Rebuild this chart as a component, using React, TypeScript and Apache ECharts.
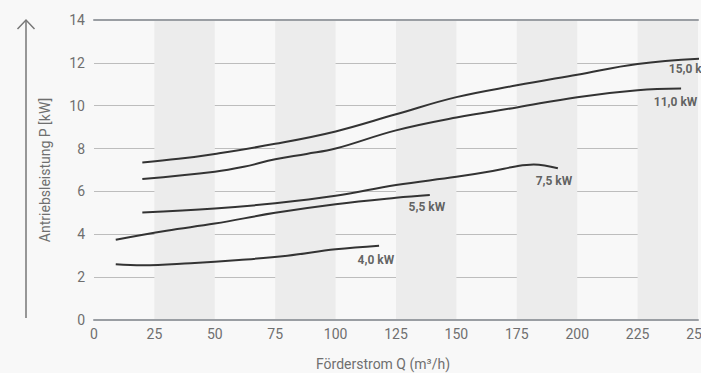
import React, { useEffect, useRef } from "react";
import * as echarts from "echarts";

const xTicks = [0, 25, 50, 75, 100, 125, 150, 175, 200, 225, 250];
const yTicks = [0, 2, 4, 6, 8, 10, 12, 14];

const curve150: [number, number][] = [[20, 7.35], [35, 7.52], [50, 7.75], [75, 8.22], [100, 8.8], [125, 9.6], [150, 10.4], [175, 10.95], [200, 11.45], [225, 11.95], [252, 12.2]];
const curve110: [number, number][] = [[20, 6.58], [50, 6.92], [62, 7.15], [75, 7.5], [88, 7.75], [100, 8.0], [125, 8.85], [150, 9.45], [175, 9.92], [200, 10.4], [225, 10.72], [243, 10.8]];
const curve75: [number, number][] = [[20, 5.02], [50, 5.2], [75, 5.45], [100, 5.8], [125, 6.3], [150, 6.68], [165, 6.95], [175, 7.18], [182, 7.26], [192, 7.08]];
const curve55: [number, number][] = [[9, 3.75], [30, 4.17], [50, 4.5], [75, 5.0], [100, 5.4], [125, 5.7], [139, 5.83]];
const curve40: [number, number][] = [[9, 2.6], [20, 2.55], [40, 2.65], [60, 2.8], [80, 3.0], [100, 3.3], [118, 3.47]];

const curveNames = ["15,0 kW", "11,0 kW", "7,5 kW", "5,5 kW", "4,0 kW"];
const curves = [curve150, curve110, curve75, curve55, curve40];
// label anchor points (left edge of label text) in data units
const labelAnchors: [number, number][] = [[237.7, 11.71], [231.5, 10.17], [182.6, 6.49], [130, 5.27], [108.9, 2.8]];

const font = "Roboto, 'Liberation Sans', sans-serif";

export default function App() {
  const ref = useRef<HTMLDivElement>(null);
  useEffect(() => {
    document.body.style.margin = "0";
    const chart = echarts.init(ref.current!, null, { renderer: "svg" });
    const lineSeries = curves.map((c, i) => ({
      type: "line",
      name: curveNames[i],
      data: c,
      smooth: 0.4,
      showSymbol: false,
      symbol: "none",
      lineStyle: { color: "#333", width: 2 },
      xAxisIndex: 0,
      yAxisIndex: 0,
      z: 5,
    }));
    chart.setOption({
      animation: false,
      backgroundColor: "#f8f8f8",
      grid: { left: 94, right: 3, top: 20, bottom: 53, outerBoundsMode: "none", containLabel: false },
      xAxis: [
        {
          type: "value",
          min: 0,
          max: 250,
          interval: 25,
          axisLine: { show: true, lineStyle: { color: "#9a9ea3", width: 2 } },
          axisTick: { show: false },
          splitLine: { show: false },
          splitArea: { show: true, areaStyle: { color: ["rgba(0,0,0,0)", "#ececec"] } },
          axisLabel: { color: "#6f6f6f", fontSize: 14, fontFamily: font, margin: 7, hideOverlap: false, formatter: (v: number) => (xTicks.includes(v) ? String(v) : "") },
          name: "Förderstrom Q (m³/h)",
          nameLocation: "middle",
          nameGap: 37,
          nameTextStyle: { color: "#6f6f6f", fontSize: 14, fontFamily: font, padding: [0, 0, 0, -26] },
        },
        {
          type: "value",
          position: "top",
          min: 0,
          max: 250,
          interval: 25,
          axisLine: { show: true, onZero: false, lineStyle: { color: "#9a9ea3", width: 2 } },
          axisTick: { show: false },
          axisLabel: { show: false },
          splitLine: { show: false },
        },
      ],
      yAxis: {
        type: "value",
        min: 0,
        max: 14,
        interval: 2,
        axisLine: { show: false },
        axisTick: { show: false },
        splitLine: { show: true, lineStyle: { color: "#bdbdbd", width: 1 } },
        axisLabel: { color: "#6f6f6f", fontSize: 14, fontFamily: font, margin: 9, formatter: (v: number) => (yTicks.includes(v) ? String(v) : "") },
        name: "Antriebsleistung P [kW]",
        nameLocation: "middle",
        nameGap: 42,
        nameRotate: 90,
        nameTextStyle: { color: "#6f6f6f", fontSize: 14, fontFamily: font },
      },
      graphic: [
        { type: "line", shape: { x1: 26, y1: 20, x2: 26, y2: 318 }, style: { stroke: "#777", lineWidth: 1.5 } },
        { type: "polyline", shape: { points: [[17.5, 29], [26, 20], [34.5, 29]] }, style: { stroke: "#777", lineWidth: 1.5, fill: null } },
      ],
      series: [
        ...lineSeries,
        {
          type: "scatter",
          data: labelAnchors.map((p, i) => ({ value: p, name: curveNames[i] })),
          symbolSize: 1,
          itemStyle: { color: "rgba(0,0,0,0)" },
          label: {
            show: true,
            position: "right",
            distance: 0,
            formatter: (p: any) => p.name,
            color: "#3d3d3d",
            fontSize: 12,
            fontWeight: "bold",
            fontFamily: font,
          },
          z: 6,
        },
      ],
    });
    return () => chart.dispose();
  }, []);
  return <div ref={ref} style={{ position: "fixed", left: 0, top: 0, width: 701, height: 373 }} />;
}
